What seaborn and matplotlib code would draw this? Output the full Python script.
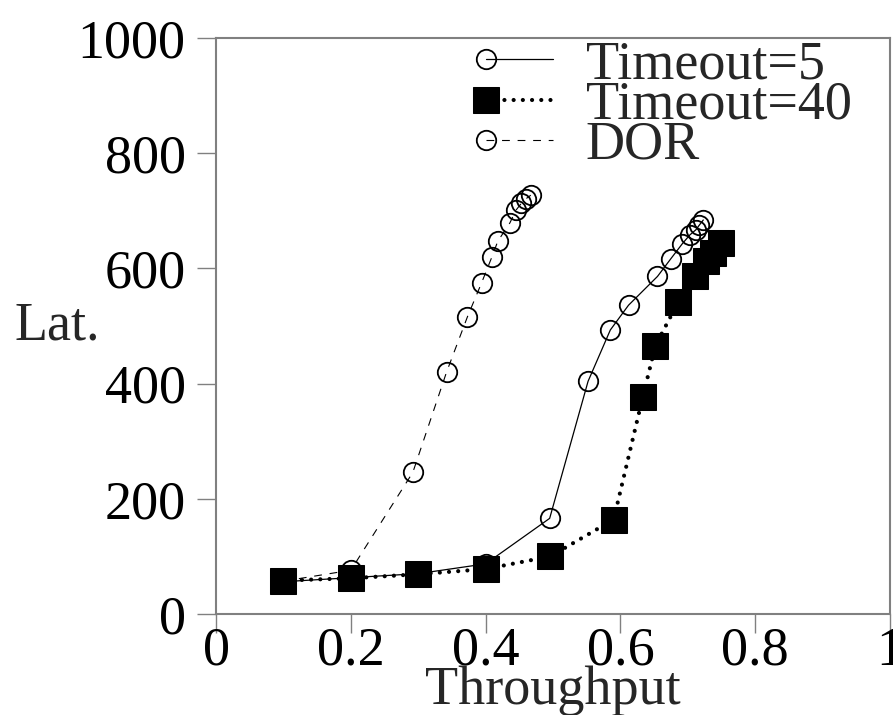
import matplotlib
matplotlib.use("Agg")
import matplotlib.pyplot as plt
import seaborn as sns
from matplotlib.legend_handler import HandlerLine2D
from matplotlib.lines import Line2D

# --- data ---
t5_x = [0.1, 0.2, 0.3, 0.4, 0.495, 0.552, 0.585, 0.612, 0.655, 0.675, 0.692, 0.703, 0.712, 0.717, 0.723]
t5_y = [56, 63, 70, 87, 166, 404, 493, 536, 586, 617, 643, 658, 667, 675, 684]

t40_x = [0.1, 0.2, 0.3, 0.4, 0.496, 0.59, 0.633, 0.652, 0.686, 0.71, 0.727, 0.737, 0.749]
t40_y = [58, 62, 69, 78, 100, 164, 376, 466, 542, 587, 612, 626, 644]

dor_x = [0.1, 0.2, 0.292, 0.342, 0.373, 0.394, 0.409, 0.418, 0.436, 0.445, 0.453, 0.46, 0.467]
dor_y = [57, 76, 246, 420, 516, 575, 619, 647, 679, 701, 713, 721, 727]

x_ticks = [0, 0.2, 0.4, 0.6, 0.8, 1]
x_labels = ["0", "0.2", "0.4", "0.6", "0.8", "1"]
y_ticks = [0, 200, 400, 600, 800, 1000]
y_labels = ["0", "200", "400", "600", "800", "1000"]


# gnuplot style key: marker at the left end, line running off to the right
class LeftMarker(HandlerLine2D):
    def create_artists(self, legend, orig_handle, xdescent, ydescent,
                       width, height, fontsize, trans):
        y = height / 2 - ydescent
        x0 = -xdescent + 0.18 * width
        line = Line2D([x0, -xdescent + width], [y, y])
        self.update_prop(line, orig_handle, legend)
        line.set_marker('None')
        line.set_transform(trans)
        mark = Line2D([x0], [y])
        self.update_prop(mark, orig_handle, legend)
        mark.set_linestyle('None')
        mark.set_transform(trans)
        return [line, mark]


sns.set_style("ticks")
plt.rcParams['font.family'] = ['Liberation Serif', 'DejaVu Serif']

fig = plt.figure(figsize=(8.93, 7.15), dpi=100)
ax = fig.add_axes([0.242, 0.1413, 0.7546, 0.8056])

sns.lineplot(x=t5_x, y=t5_y, ax=ax, sort=False, estimator=None, color='black',
             linestyle='-', linewidth=0.9, marker='o', markersize=14,
             markerfacecolor='none', markeredgecolor='black', markeredgewidth=1.3,
             label='Timeout=5')
sns.lineplot(x=t40_x, y=t40_y, ax=ax, sort=False, estimator=None, color='black',
             linestyle=(0, (0.01, 2.2)), linewidth=3, dash_capstyle='round',
             marker='s', markersize=19, markerfacecolor='black', markeredgecolor='black',
             label='Timeout=40')
sns.lineplot(x=dor_x, y=dor_y, ax=ax, sort=False, estimator=None, color='black',
             linestyle=(0, (7, 7)), linewidth=0.8, marker='o', markersize=14,
             markerfacecolor='none', markeredgecolor='black', markeredgewidth=1.3,
             label='DOR')

ax.set_xlim(0, 1)
ax.set_ylim(0, 1000)
ax.set_xticks(x_ticks)
ax.set_xticklabels(x_labels)
ax.set_yticks(y_ticks)
ax.set_yticklabels(y_labels)

for s in ax.spines.values():
    s.set_visible(True)
    s.set_color('#808080')
    s.set_linewidth(1.5)
ax.tick_params(axis='both', direction='out', length=14, width=1, color='#808080',
               labelsize=39, labelcolor='black')
ax.tick_params(axis='x', pad=-5)
ax.tick_params(axis='y', pad=8)

ax.set_xlabel('Throughput', fontsize=39, labelpad=-8)
ax.set_ylabel('Lat.', fontsize=39, rotation=0, va='center', ha='center')
ax.yaxis.set_label_coords(-0.236, 0.5)

handles, labels = ax.get_legend_handles_labels()
ax.legend(handles, labels, loc='upper right', bbox_to_anchor=(0.991, 1.053), frameon=False,
          fontsize=39, handlelength=1.5, handletextpad=0.6, labelspacing=-0.19,
          borderaxespad=0.2, handler_map={h: LeftMarker() for h in handles})

fig.savefig('out.png', dpi=100)
